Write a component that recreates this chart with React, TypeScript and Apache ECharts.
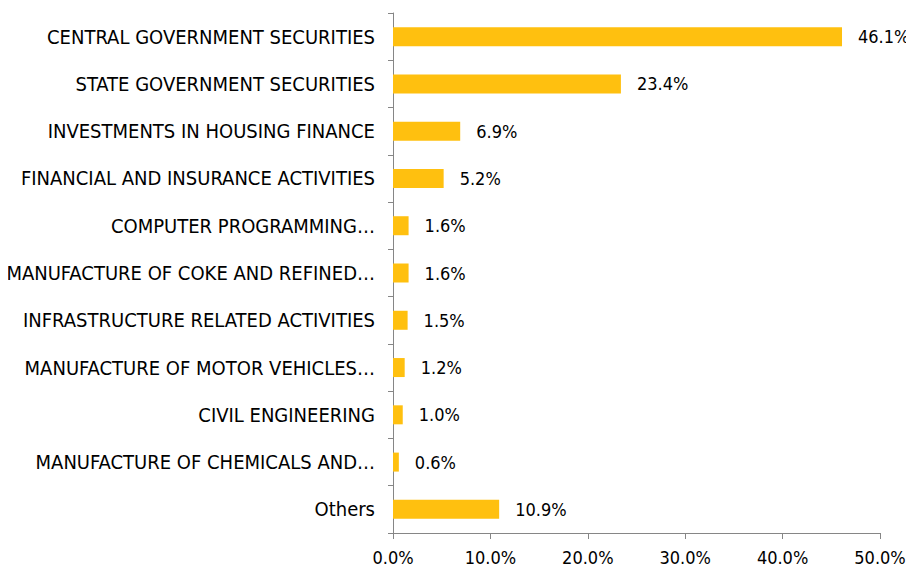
import React, { useEffect, useRef } from "react";
import * as echarts from "echarts";

const categories = [
  "CENTRAL GOVERNMENT SECURITIES",
  "STATE GOVERNMENT SECURITIES",
  "INVESTMENTS IN HOUSING FINANCE",
  "FINANCIAL AND INSURANCE ACTIVITIES",
  "COMPUTER PROGRAMMING…",
  "MANUFACTURE OF COKE AND REFINED…",
  "INFRASTRUCTURE RELATED ACTIVITIES",
  "MANUFACTURE OF MOTOR VEHICLES…",
  "CIVIL ENGINEERING",
  "MANUFACTURE OF CHEMICALS AND…",
  "Others",
];
const values = [46.1, 23.4, 6.9, 5.2, 1.6, 1.6, 1.5, 1.2, 1.0, 0.6, 10.9];

const FONT = "'DejaVu Sans Condensed', 'Liberation Sans Narrow', sans-serif";

export default function App() {
  const ref = useRef<HTMLDivElement>(null);
  useEffect(() => {
    if (!ref.current) return;
    const chart = echarts.init(ref.current, null, { renderer: "svg" });
    chart.setOption({
      animation: false,
      grid: {
        left: 393,
        right: 34,
        top: 13,
        bottom: 39,
        containLabel: false,
        outerBoundsMode: "none",
      },
      xAxis: {
        type: "value",
        min: 0,
        max: 50,
        interval: 10,
        splitLine: { show: false },
        axisLine: { show: true, lineStyle: { color: "#868686", width: 1 } },
        axisTick: { show: true, length: 6, lineStyle: { color: "#868686" } },
        axisLabel: {
          color: "#000",
          fontFamily: FONT,
          fontSize: 18,
          margin: 15,
          formatter: (v: number) => v.toFixed(1) + "%",
        },
      },
      yAxis: {
        type: "category",
        inverse: true,
        data: categories,
        axisLine: { show: true, lineStyle: { color: "#868686", width: 1 } },
        axisTick: { show: true, length: 5, lineStyle: { color: "#868686" } },
        axisLabel: { color: "#000", fontFamily: FONT, fontSize: 20, margin: 18 },
      },
      series: [
        {
          type: "bar",
          data: values,
          barWidth: 19,
          itemStyle: { color: "#FFC00F" },
          label: {
            show: true,
            position: "right",
            distance: 16,
            color: "#000",
            fontFamily: FONT,
            fontSize: 18,
            formatter: (p: any) => Number(p.value).toFixed(1) + "%",
          },
        },
      ],
    });
    return () => chart.dispose();
  }, []);
  return <div ref={ref} style={{ width: 914, height: 572, margin: -8 }} />;
}
